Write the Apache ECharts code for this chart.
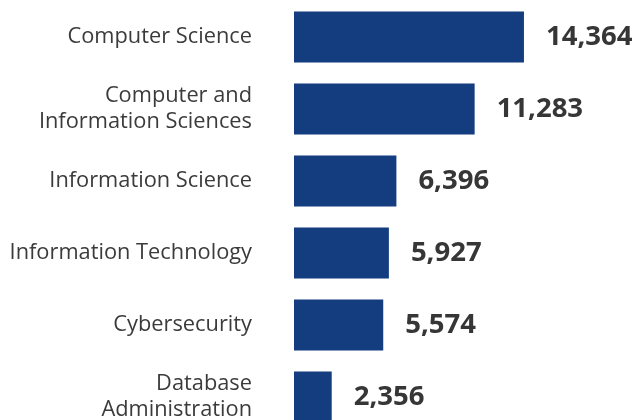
<!DOCTYPE html>
<html>
<head>
<meta charset="utf-8">
<script src="https://cdn.jsdelivr.net/npm/echarts@6/dist/echarts.min.js"></script>
<style>
  html, body { margin: 0; padding: 0; background: #fff; }
  #chart { width: 635px; height: 420px; }
</style>
</head>
<body>
<div id="chart"></div>
<script>
// degree fields and counts
var fields = [
  "Computer Science",
  "Computer and\nInformation Sciences",
  "Information Science",
  "Information Technology",
  "Cybersecurity",
  "Database\nAdministration"
];
var counts = [14364, 11283, 6396, 5927, 5574, 2356];

var myChart = echarts.init(document.getElementById("chart"));
var option = {
  animation: false,
  textStyle: { fontFamily: "Open Sans" },
  grid: {
    left: 294,
    right: 0,
    top: 1,
    bottom: -13,
    containLabel: false,
    outerBoundsMode: "none"
  },
  xAxis: {
    type: "value",
    min: 0,
    max: 21300,
    show: false
  },
  yAxis: {
    type: "category",
    inverse: true,
    data: fields,
    axisLine: { show: false },
    axisTick: { show: false },
    splitLine: { show: false },
    axisLabel: {
      margin: 42,
      color: "#3b3b3b",
      fontSize: 21.8,
      lineHeight: 26,
      fontFamily: "Open Sans",
      align: "right"
    }
  },
  series: [
    {
      type: "bar",
      data: counts,
      barWidth: 51,
      itemStyle: { color: "#133d7e" },
      label: {
        show: true,
        position: "right",
        distance: 22,
        color: "#363636",
        fontSize: 27.5,
        fontWeight: "bold",
        fontFamily: "Open Sans",
        formatter: function (p) {
          return p.value.toLocaleString("en-US");
        }
      }
    }
  ]
};
option && myChart.setOption(option);
</script>
</body>
</html>
